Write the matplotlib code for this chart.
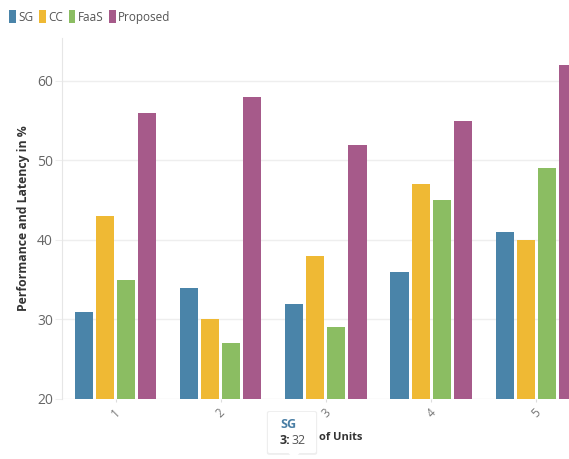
import matplotlib.pyplot as plt
import numpy as np
from matplotlib.patches import FancyBboxPatch, Patch, Polygon

units = [1, 2, 3, 4, 5]
sg = [31, 34, 32, 36, 41]
cc = [43, 30, 38, 47, 40]
faas = [35, 27, 29, 45, 49]
proposed = [56, 58, 52, 55, 62]

series = ["SG", "CC", "FaaS", "Proposed"]
colors = ["#4a84a9", "#efb934", "#8bbd62", "#a65a8a"]

plt.rcParams['font.family'] = ['Open Sans', 'DejaVu Sans']

W, H = 569, 459
fig = plt.figure(figsize=(W / 100, H / 100), dpi=100)


def px(x, y):
    # pixel position (from top-left) -> figure fraction
    return x / W, 1 - y / H


ax = fig.add_axes([62 / W, (H - 399) / H, (W - 62) / W, (399 - 38) / H])

x = np.array(units, dtype=float)
offsets = [-0.3, -0.1, 0.1, 0.3]
for vals, off, col, name in zip([sg, cc, faas, proposed], offsets, colors, series):
    ax.bar(x + off, np.array(vals) - 20, bottom=20, width=0.172, color=col,
           label=name, zorder=3)

ax.set_xlim(0.491, 5.311)
ax.set_ylim(20, 65.4)
ax.set_yticks([20, 30, 40, 50, 60])
ax.set_xticks(units)
ax.set_xticklabels([str(u) for u in units], rotation=45, color="#777777",
                   fontsize=8.5)
ax.tick_params(axis="x", length=2, color="#dddddd", pad=3)
ax.tick_params(axis="y", length=5, color="#eeeeee", labelcolor="#666666",
               labelsize=10, pad=1.5)
ax.grid(axis="y", color="#eeeeee", linewidth=1, zorder=0)
for s in ["top", "right", "bottom"]:
    ax.spines[s].set_visible(False)
ax.spines["left"].set_color("#e6e6e6")

ax.set_ylabel("Performance and Latency in %", fontsize=8.8, fontweight="bold",
              color="#333333", labelpad=5)
ax.set_xlabel("Number of Units", fontsize=8.0, fontweight="bold",
              color="#333333", labelpad=9)
ax.xaxis.label.set_x(0.502)

handles = [Patch(facecolor=c, edgecolor="none") for c in colors]
fig.legend(handles, series, loc="upper left", bbox_to_anchor=px(0, 1),
           ncol=4, frameon=False, handlelength=0.55, handleheight=1.25,
           handletextpad=0.2, columnspacing=0.5, fontsize=8.5,
           labelcolor="#555555", borderaxespad=0.4)

# hover tooltip for SG at unit 3
x0, y0 = px(268, 453)
x1, y1 = px(316, 412)
shadow = FancyBboxPatch((x0 - 0.002, y0 - 0.004), x1 - x0 + 0.004, y1 - y0 + 0.006,
                        boxstyle="round,pad=0,rounding_size=0.004",
                        transform=fig.transFigure, facecolor="#eeeeee",
                        edgecolor="none", zorder=10)
box = FancyBboxPatch((x0, y0), x1 - x0, y1 - y0,
                     boxstyle="round,pad=0,rounding_size=0.003",
                     transform=fig.transFigure, facecolor="white",
                     edgecolor="none", zorder=11)
arrow = Polygon([px(288, 452.5), px(300, 452.5), px(294, 459)], closed=True,
                transform=fig.transFigure, facecolor="white",
                edgecolor="none", zorder=12)
fig.add_artist(shadow)
fig.add_artist(box)
fig.add_artist(arrow)
fig.text(*px(280, 425), "SG", fontsize=9, fontweight="bold", color="#4a7fa5",
         va="center", zorder=13)
fig.text(*px(280, 441), "3:", fontsize=9, fontweight="bold", color="#333333",
         va="center", zorder=13)
fig.text(*px(292, 441), "32", fontsize=9, color="#555555", va="center",
         zorder=13)

fig.savefig("out.png", dpi=100)
